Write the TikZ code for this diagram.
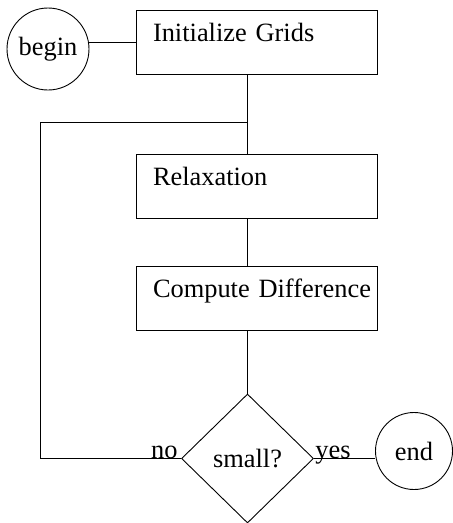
\documentclass[tikz,border=0pt]{standalone}
\usepackage{fontspec}
\setmainfont{Liberation Serif}
\usetikzlibrary{shapes.geometric}
\begin{document}
\begin{tikzpicture}[x=1pt,y=-1pt,line width=0.9pt,
  every node/.style={font=\fontsize{26.4}{30}\selectfont},
  procbox/.style={draw,rectangle,minimum width=241pt,minimum height=64pt,inner xsep=0pt,inner ysep=13pt,text width=241pt,align=left,text height=18.5pt,text depth=19.5pt},
  term/.style={draw,circle,inner sep=0pt},
  decision/.style={draw,diamond,minimum width=132pt,minimum height=129pt,inner sep=0pt},
  lbl/.style={inner sep=0pt}]
\useasboundingbox (0,0) rectangle (453,523);
\node[term,minimum size=82pt] (begin) at (48,49) {begin};
\node[procbox] (init) at (256.5,42) {\hspace*{17pt}Initialize Grids};
\node[procbox] (relax) at (256.5,186) {\hspace*{17pt}Relaxation};
\node[procbox] (comp) at (256.5,298) {\hspace*{17pt}Compute Difference};
\node[decision] (dia) at (247.5,458.5) {small?};
\node[term,minimum size=77pt] (end) at (414,451) {end};
\coordinate (lb) at (40,122);
\draw (init.west) -- (init.west -| begin.east);
\draw (init.south -| dia.north) -- (relax.north -| dia.north);
\draw (relax.south -| dia.north) -- (comp.north -| dia.north);
\draw (comp.south -| dia.north) -- (dia.north);
\draw (dia.west) -| (lb) -- (lb -| dia.north);
\draw (dia.east) -- (dia.east -| end.west);
\node[lbl,anchor=base east] (no) at ([xshift=-3pt]dia.west) {no};
\node[lbl,anchor=base west] (yes) at ([xshift=1pt]dia.east) {yes};
\end{tikzpicture}
\end{document}
